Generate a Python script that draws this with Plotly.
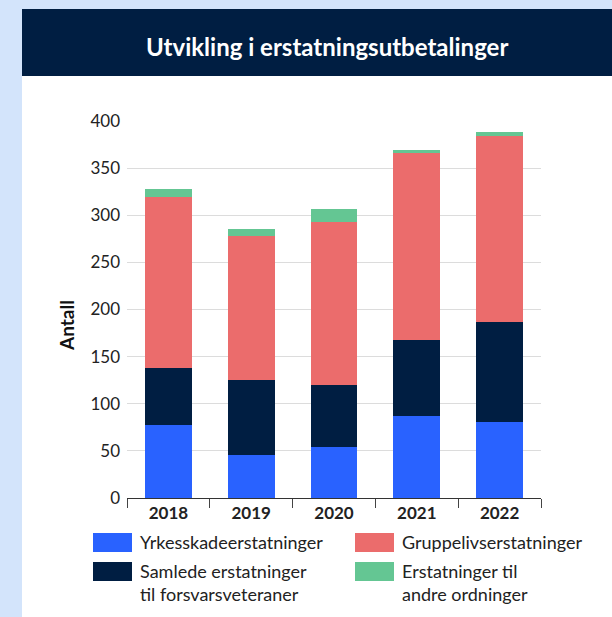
import plotly.graph_objects as go

years = ["2018", "2019", "2020", "2021", "2022"]
series_names = [
    "Yrkesskadeerstatninger",
    "Samlede erstatninger<br>til forsvarsveteraner",
    "Gruppelivserstatninger",
    "Erstatninger til<br>andre ordninger",
]
yrkesskade = [77, 46, 54, 87, 81]
forsvarsveteraner = [61, 79, 66, 81, 106]
gruppeliv = [181, 153, 173, 198, 197]
andre = [9, 7, 14, 3, 4]
colors = ["#2962ff", "#001e42", "#eb6c6c", "#64c693"]
y_ticks = [0, 50, 100, 150, 200, 250, 300, 350, 400]

FONT = "Lato, Noto Sans, sans-serif"
W, H = 612, 617
L, R, T, B = 127, 71, 121, 119
pw, ph = W - L - R, H - T - B

def px(x):
    return (x - L) / pw

def py(y):
    return (H - B - y) / ph

fig = go.Figure()
for name, vals, col in zip(series_names, [yrkesskade, forsvarsveteraner, gruppeliv, andre], colors):
    fig.add_trace(go.Bar(x=years, y=vals, name=name, marker=dict(color=col, line=dict(width=0)),
                         showlegend=False))

shapes = [
    dict(type="rect", xref="paper", yref="paper", x0=px(22), x1=px(640), y0=py(640), y1=py(9),
         fillcolor="white", line=dict(width=0), layer="below"),
    dict(type="rect", xref="paper", yref="paper", x0=px(22), x1=px(640), y0=py(76), y1=py(9),
         fillcolor="#001e42", line=dict(width=0), layer="below"),
]
annotations = [
    dict(text="<b>Utvikling i erstatningsutbetalinger</b>", xref="paper", yref="paper",
         x=px(327), y=py(46), xanchor="center", yanchor="middle", showarrow=False,
         font=dict(family=FONT, size=24, color="white")),
    dict(text="<b>Antall</b>", xref="paper", yref="paper", x=px(66), y=py(326),
         xanchor="center", yanchor="middle", textangle=-90, showarrow=False,
         font=dict(family=FONT, size=19, color="#111")),
]

# custom legend
legend_pos = [(93, 533), (93, 562), (355, 533), (355, 562)]
for name, col, (lx, ly) in zip(series_names, colors, legend_pos):
    shapes.append(dict(type="rect", xref="paper", yref="paper", x0=px(lx), x1=px(lx + 39),
                       y0=py(ly + 19), y1=py(ly), fillcolor=col, line=dict(width=0)))
    annotations.append(dict(text=name, xref="paper", yref="paper", x=px(lx + 45), y=py(ly - 4),
                            xanchor="left", yanchor="top", align="left", showarrow=False,
                            font=dict(family=FONT, size=18, color="#222")))

fig.update_layout(
    width=W, height=H,
    margin=dict(l=L, r=R, t=T, b=B),
    paper_bgcolor="#d3e4fb",
    plot_bgcolor="white",
    barmode="stack",
    bargap=0.436,
    shapes=shapes,
    annotations=annotations,
    font=dict(family=FONT),
    xaxis=dict(
        type="category", tickson="boundaries", ticks="outside", ticklen=9, tickcolor="#444",
        showline=True, linecolor="#333", linewidth=1,
        tickfont=dict(family=FONT, size=17, color="#222", weight="bold"),
        showgrid=False,
    ),
    yaxis=dict(
        range=[0, 400], tickvals=y_ticks, showgrid=True, gridcolor="#dcdcdc", gridwidth=1,
        zeroline=False, showline=False, ticks="", ticklabelstandoff=6,
        tickfont=dict(family=FONT, size=17, color="#222"),
    ),
)

fig.write_html("out.html", config={"displayModeBar": False},
               post_script="document.body.style.margin='0';document.body.style.background='#d3e4fb';")
